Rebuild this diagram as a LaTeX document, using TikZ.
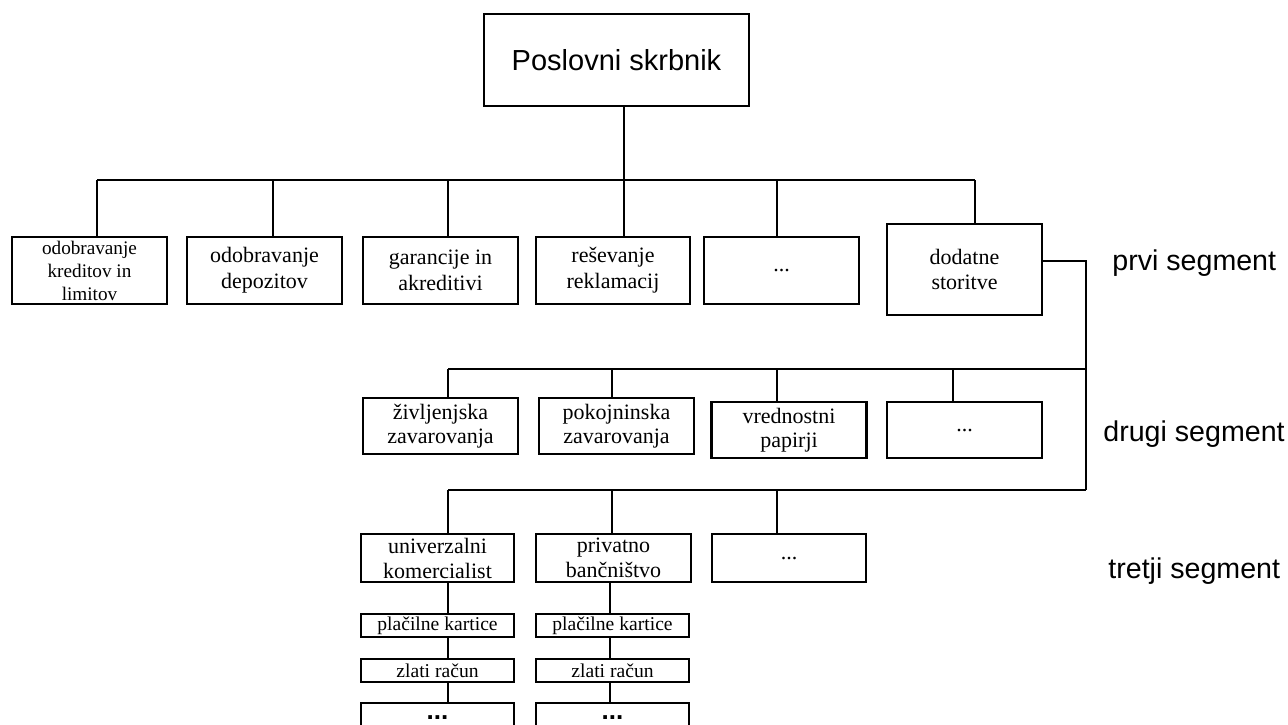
\documentclass[tikz,border=0pt]{standalone}
\usepackage{fontspec}
\setmainfont{Liberation Serif}
\setsansfont{Liberation Sans}
\begin{document}
\begin{tikzpicture}[x=0.5pt,y=-0.5pt,
  box/.style={draw, line width=1.45pt, align=center, inner sep=0pt,
    font=\fontsize{11}{12}\selectfont},
  rowone/.style={box, minimum width=77.5pt, minimum height=33.5pt,
    font=\fontsize{11}{13}\selectfont},
  rowtwo/.style={box, minimum width=77.5pt, minimum height=28pt},
  rowthree/.style={box, minimum width=76.5pt, minimum height=24pt,
    font=\fontsize{11}{12.5}\selectfont},
  small/.style={box, minimum width=76.5pt, minimum height=11.5pt,
    font=\fontsize{9.8}{10}\selectfont},
  link/.style={line width=1.45pt},
  thinlink/.style={line width=1.1pt},
  seglabel/.style={anchor=base west, inner sep=0pt,
    font=\sffamily\fontsize{14.3}{16}\selectfont},
  moredots/.style={anchor=base, inner sep=0pt,
    font=\sffamily\bfseries\fontsize{13}{15}\selectfont}]
\useasboundingbox (0,0) rectangle (1288,724);

% top of the hierarchy
\node[box, line width=1.1pt, minimum width=132.5pt, minimum height=46pt,
  font=\sffamily\fontsize{14.5}{16}\selectfont] (top) at (616.5,60) {Poslovni skrbnik};

% first segment
\node[rowone, font=\fontsize{9.6}{11.5}\selectfont] (b1) at (89.5,270.5) {odobravanje\\kreditov in\\limitov};
\node[rowone] (b2) at (264.5,270.5) {odobravanje\\depozitov};
\node[rowone] (b3) at (440.5,270.5) {garancije in\\akreditivi};
\node[rowone, minimum width=77pt] (b4) at (613,270.5) {reševanje\\reklamacij};
\node[rowone] (b5) at (781.5,270.5) {...};
\node[rowone, line width=1.1pt, minimum height=45.5pt, font=\fontsize{11}{12.5}\selectfont] (dod) at (964.5,269.5) {dodatne\\storitve};

% second segment
\node[rowtwo] (s1) at (440.5,426) {življenjska\\zavarovanja};
\node[rowtwo] (s2) at (616.5,426) {pokojninska\\zavarovanja};
\node[rowtwo] (s3) at (789,430) {vrednostni\\papirji};
\node[rowtwo] (s4) at (964.5,430) {...};

% third segment
\node[rowthree] (t1) at (437.5,558) {univerzalni\\komercialist};
\node[rowthree, minimum width=77.5pt] (t2) at (613.5,558) {privatno\\bančništvo};
\node[rowthree, minimum width=77pt] (t3) at (789,558) {...};

% products under the third segment
\node[small] (k1) at (437.5,625.5) {plačilne kartice};
\node[small] (z1) at (437.5,670.5) {zlati račun};
\node[small, minimum height=23.5pt] (d1) at (437.5,726.5) {};
\node[small] (k2) at (612.5,625.5) {plačilne kartice};
\node[small] (z2) at (612.5,670.5) {zlati račun};
\node[small, minimum height=23.5pt] (d2) at (612.5,726.5) {};
\node[moredots] (e1) at (437.5,719) {...};
\node[moredots] (e2) at (612.5,719) {...};

% segment labels
\node[seglabel] (l1) at (1112,270) {prvi segment};
\node[seglabel] (l2) at (1103,441) {drugi segment};
\node[seglabel] (l3) at (1108,578) {tretji segment};

% junctions on the first bar
\coordinate (j1) at (97,180);
\coordinate (j2) at (273,180);
\coordinate (j3) at (448,180);
\coordinate (j4) at (624,180);
\coordinate (j5) at (777,180);
\coordinate (j6) at (975,180);

% connectors of the first segment
\draw[link] (j1) -- (j6);
\draw[link] (top.south -| j4) -- (j4 |- b4.north);
\draw[link] (j1) -- (j1 |- b1.north);
\draw[link] (j2) -- (j2 |- b2.north);
\draw[link] (j3) -- (j3 |- b3.north);
\draw[link] (j5) -- (j5 |- b5.north);
\draw[link] (j6) -- (j6 |- dod.north);

% side connector from the additional services
\coordinate (r1) at (1086,261);
\coordinate (r2) at (1086,369);
\coordinate (r3) at (1086,490);
\draw[thinlink] (dod.east |- r1) -- (r1) -- (r3);

% second bar
\coordinate (m1) at (448,369);
\coordinate (m2) at (612,369);
\coordinate (m3) at (777,369);
\coordinate (m4) at (953,369);
\draw[link] (m1) -- (r2);
\draw[link] (m1) -- (m1 |- s1.north);
\draw[link] (m2) -- (m2 |- s2.north);
\draw[link] (m3) -- (m3 |- s3.north);
\draw[link] (m4) -- (m4 |- s4.north);

% third bar
\coordinate (n1) at (448,490);
\coordinate (n2) at (612,490);
\coordinate (n3) at (777,490);
\draw[link] (n1) -- (r3);
\draw[link] (n1) -- (n1 |- t1.north);
\draw[link] (n2) -- (n2 |- t2.north);
\draw[link] (n3) -- (n3 |- t3.north);

% product chains
\coordinate (c1) at (448,0);
\coordinate (c2) at (610,0);
\draw[link] (t1.south -| c1) -- (k1.north -| c1);
\draw[link] (k1.south -| c1) -- (z1.north -| c1);
\draw[link] (z1.south -| c1) -- (d1.north -| c1);
\draw[link] (t2.south -| c2) -- (k2.north -| c2);
\draw[link] (k2.south -| c2) -- (z2.north -| c2);
\draw[link] (z2.south -| c2) -- (d2.north -| c2);
\end{tikzpicture}
\end{document}
